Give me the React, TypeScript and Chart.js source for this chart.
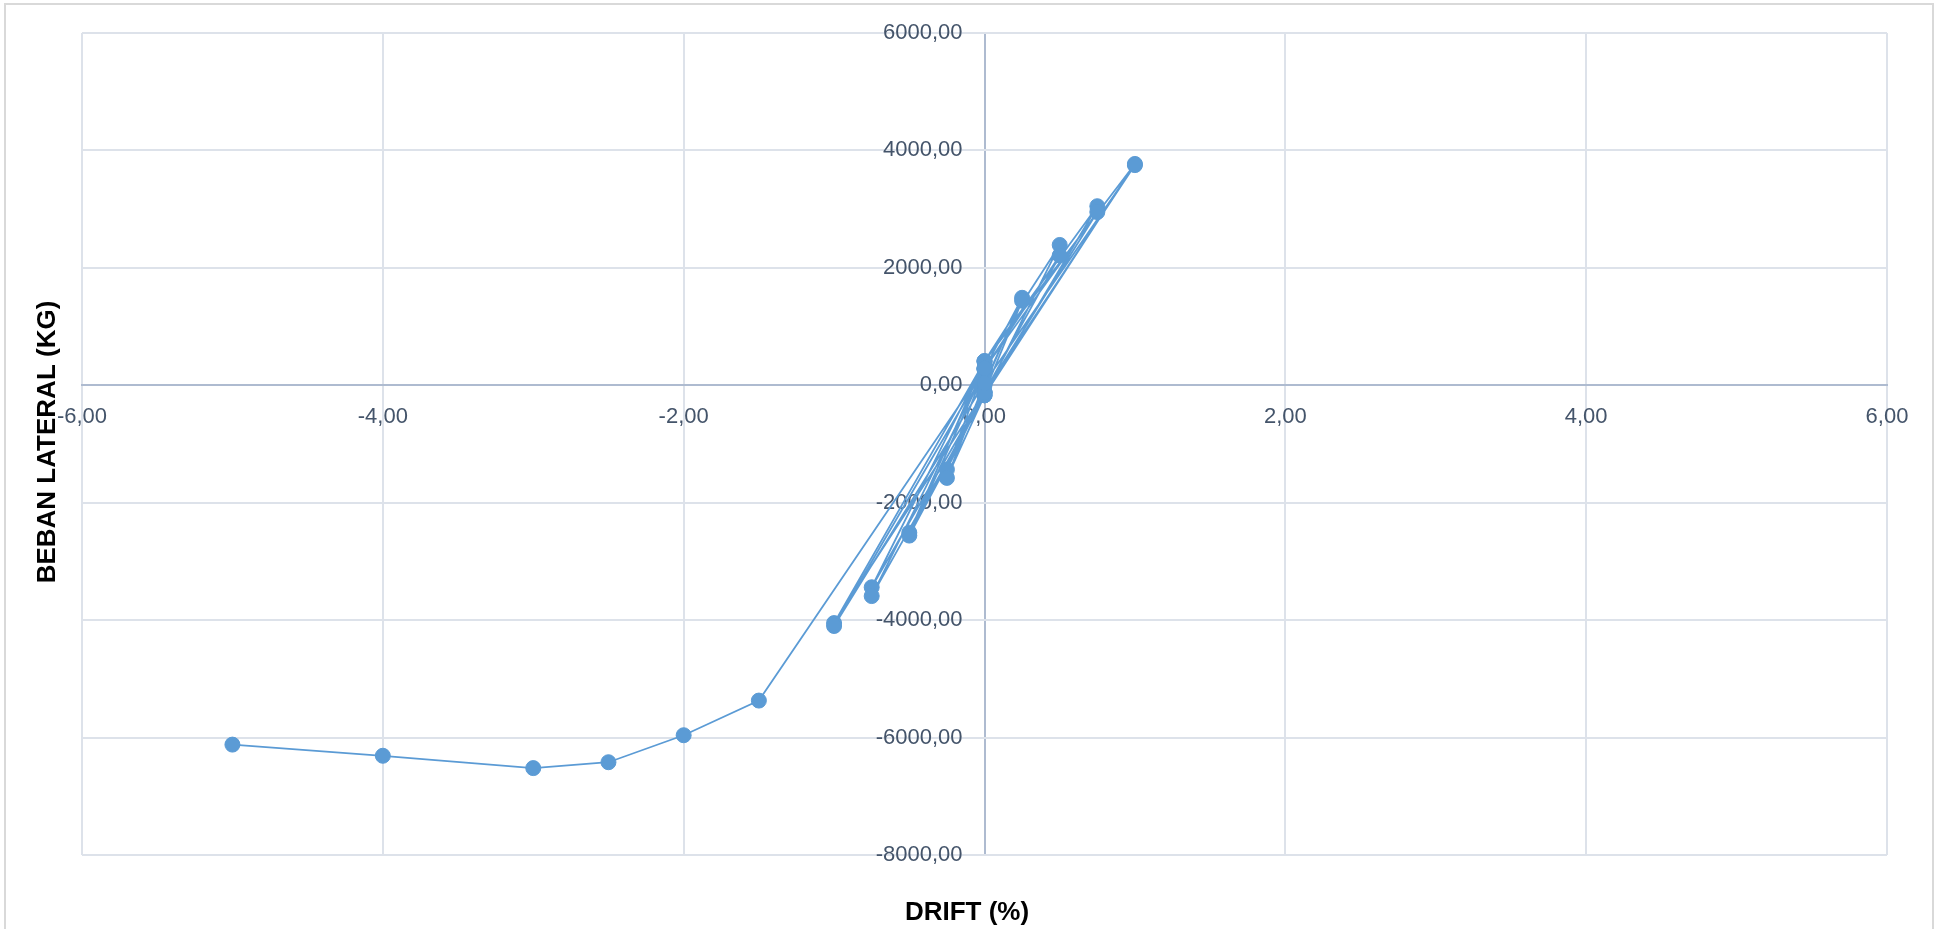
import { useEffect, useRef } from "react";
import { Chart, registerables } from "chart.js";

Chart.register(...registerables);

// Cyclic test record: drift (%) and lateral load (kg), in loading order
const driftPercent = [
  0,
  0.25, 0, -0.25, 0,
  0.25, 0, -0.25, 0,
  0.5, 0, -0.5, 0,
  0.5, 0, -0.5, 0,
  0.75, 0, -0.75, 0,
  0.75, 0, -0.75, 0,
  1.0, 0, -1.0, 0,
  1.0, 0, -1.0, 0,
  -1.5, -2.0, -2.5, -3.0, -4.0, -5.0,
];

const lateralLoadKg = [
  0,
  1490, 280, -1435, -120,
  1440, 40, -1577, -170,
  2390, 410, -2510, -120,
  2210, 280, -2560, -170,
  3050, 410, -3440, -120,
  2950, 280, -3590, -170,
  3770, 410, -4050, -120,
  3750, 40, -4100, 290,
  -5370, -5960, -6420, -6520, -6310, -6120,
];

const driftTicks = [-6, -4, -2, 0, 2, 4, 6];
const loadTicks = [-8000, -6000, -4000, -2000, 0, 2000, 4000, 6000];

const xTitle = "DRIFT (%)";
const yTitle = "BEBAN LATERAL (KG)";

const SERIES_BLUE = "#5b9bd5";
const GRID_GRAY = "#dde2ea";
const AXIS_GRAY = "#aebbd0";
const TICK_COLOR = "#44546a";
const TICK_FONT = { family: "'Liberation Sans', Arial, sans-serif", size: 22 };

// Load labels sit a little to the left of the zero-drift line
const LOAD_LABEL_ANCHOR = -0.146;

const fmt = (v: number) => v.toFixed(2).replace(".", ",");

const frameAndTitles = {
  id: "frameAndTitles",
  beforeDraw(chart: any) {
    const { ctx, width, height } = chart;
    ctx.save();
    ctx.fillStyle = "#ffffff";
    ctx.fillRect(0, 0, width, height);
    ctx.strokeStyle = "#d9d9d9";
    ctx.lineWidth = 2;
    ctx.strokeRect(5, 4, width - 10, height + 20);
    ctx.restore();
  },
  afterDraw(chart: any) {
    const { ctx } = chart;
    ctx.save();
    ctx.fillStyle = "#000000";
    ctx.font = "bold 26px 'Liberation Sans', Arial, sans-serif";
    ctx.textAlign = "center";
    ctx.textBaseline = "alphabetic";
    ctx.fillText(xTitle, 967, 920);
    ctx.translate(55, 442);
    ctx.rotate(-Math.PI / 2);
    ctx.fillText(yTitle, 0, 0);
    ctx.restore();
  },
};

export default function App() {
  const canvasRef = useRef<HTMLCanvasElement | null>(null);

  useEffect(() => {
    if (!canvasRef.current) return;
    const points = driftPercent.map((x, i) => ({ x, y: lateralLoadKg[i] }));
    const chart = new Chart(canvasRef.current, {
      type: "scatter",
      data: {
        datasets: [
          {
            data: points,
            showLine: true,
            borderColor: SERIES_BLUE,
            borderWidth: 1.8,
            backgroundColor: SERIES_BLUE,
            pointBackgroundColor: SERIES_BLUE,
            pointBorderColor: SERIES_BLUE,
            pointBorderWidth: 1,
            pointRadius: 7.5,
            tension: 0,
          },
        ],
      },
      options: {
        animation: false,
        responsive: true,
        maintainAspectRatio: false,
        layout: { padding: { left: 82, top: 33, right: 51, bottom: 74 } },
        plugins: {
          legend: { display: false },
          tooltip: { enabled: false },
          title: { display: false },
        },
        scales: {
          x: {
            type: "linear",
            position: { y: 0 },
            min: -6,
            max: 6,
            afterBuildTicks: (scale: any) => {
              scale.ticks = driftTicks.map((value) => ({ value }));
            },
            ticks: {
              color: TICK_COLOR,
              font: TICK_FONT,
              padding: 18,
              maxRotation: 0,
              autoSkip: false,
              callback: (v: any) => fmt(Number(v)),
            },
            grid: {
              color: (c: any) => (c.tick && c.tick.value === 0 ? AXIS_GRAY : GRID_GRAY),
              lineWidth: 2,
              drawTicks: false,
            },
            border: { color: AXIS_GRAY, width: 2 },
          },
          y: {
            type: "linear",
            position: { x: LOAD_LABEL_ANCHOR },
            min: -8000,
            max: 6000,
            afterBuildTicks: (scale: any) => {
              scale.ticks = loadTicks.map((value) => ({ value }));
            },
            ticks: {
              color: TICK_COLOR,
              font: TICK_FONT,
              autoSkip: false,
              callback: (v: any) => fmt(Number(v)),
            },
            grid: { color: GRID_GRAY, lineWidth: 2, drawTicks: false },
            border: { display: false },
          },
        },
      },
      plugins: [frameAndTitles],
    });
    return () => chart.destroy();
  }, []);

  return (
    <div style={{ position: "fixed", left: 0, top: 0, width: "1938px", height: "929px", background: "#ffffff" }}>
      <canvas ref={canvasRef} />
    </div>
  );
}
